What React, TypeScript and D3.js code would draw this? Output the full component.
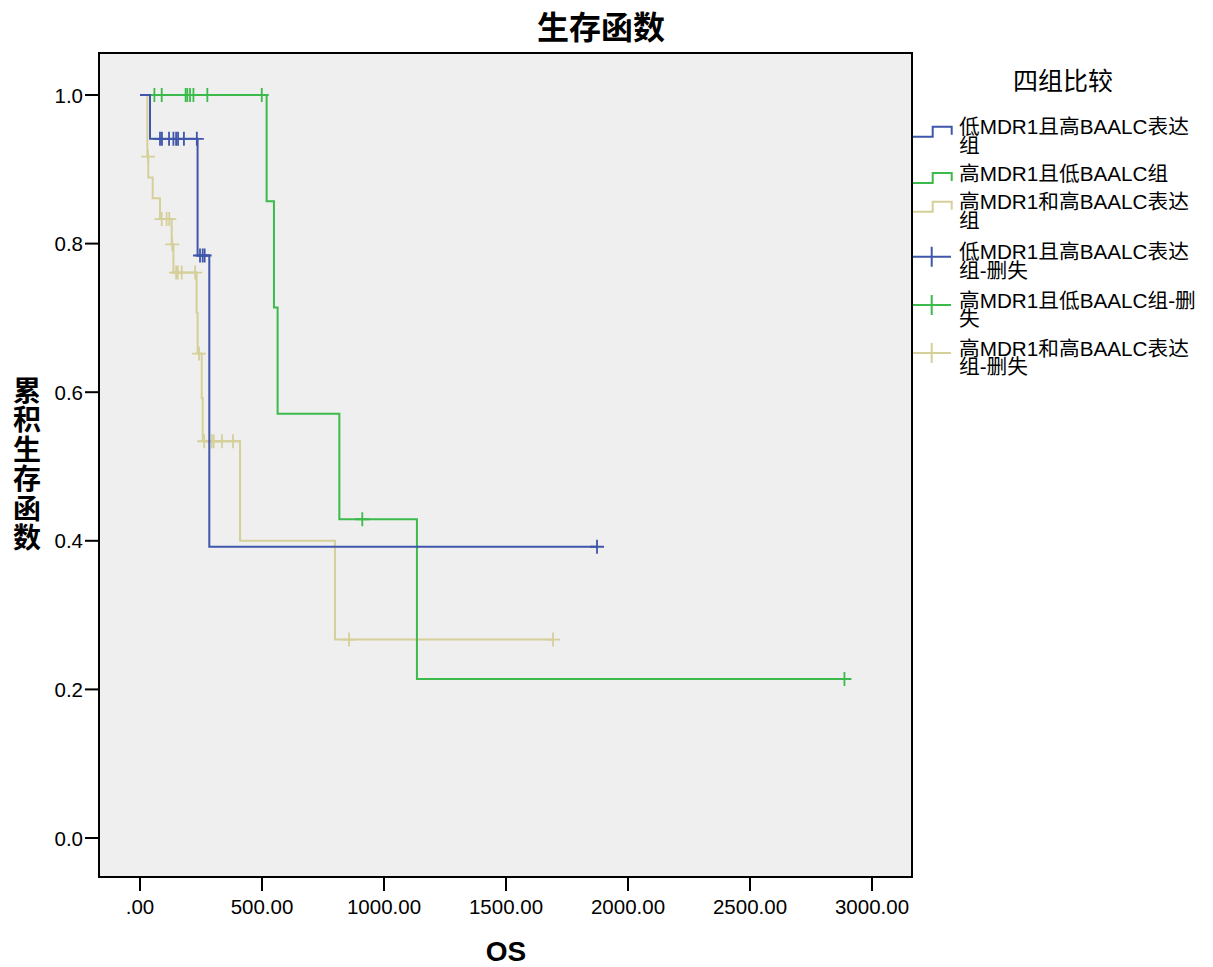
import React, { useEffect, useRef } from "react";
import * as d3 from "d3";

// step points (time in days, cumulative survival)
const blueTimes = [0, 41, 236, 284];
const blueSurv = [1.0, 0.941, 0.784, 0.392];
const blueCensor = [82, 90, 119, 137, 148, 156, 180, 233, 246, 257, 265, 1873];

const greenTimes = [0, 519, 549, 564, 817, 1135];
const greenSurv = [1.0, 0.857, 0.714, 0.571, 0.429, 0.214];
const greenCensor = [59, 89, 187, 194, 205, 219, 276, 499, 911, 2887];

const tanTimes = [0, 30, 34, 52, 82, 130, 137, 232, 236, 253, 257, 410, 799];
const tanSurv = [1.0, 0.917, 0.889, 0.861, 0.833, 0.799, 0.761, 0.707, 0.652, 0.592, 0.534, 0.4, 0.267];
const tanCensor = [33, 89, 109, 120, 132, 148, 155, 171, 226, 242, 263, 294, 302, 336, 381, 857, 1693];

const xTicks = [0, 500, 1000, 1500, 2000, 2500, 3000];
const yTicks = [0, 0.2, 0.4, 0.6, 0.8, 1.0];

const legendLines = [
  ["低MDR1且高BAALC表达", "组"],
  ["高MDR1且低BAALC组"],
  ["高MDR1和高BAALC表达", "组"],
  ["低MDR1且高BAALC表达", "组-删失"],
  ["高MDR1且低BAALC组-删", "失"],
  ["高MDR1和高BAALC表达", "组-删失"],
];

const colors = ["#3f56aa", "#3cba4c", "#d5cf9a"];
const FONT = "'Liberation Sans', Arial, 'Noto Sans CJK SC', sans-serif";

const App = () => {
  const svgRef = useRef(null);

  useEffect(() => {
    document.body.style.margin = "0";
    const svg = d3.select(svgRef.current);
    svg.selectAll("*").remove();

    const left = 99, right = 912, top = 53, bottom = 877;
    const x = d3.scaleLinear().domain([0, 3000]).range([140, 872]);
    const y = d3.scaleLinear().domain([0, 1]).range([838, 95]);

    svg.append("rect")
      .attr("x", left).attr("y", top)
      .attr("width", right - left).attr("height", bottom - top)
      .attr("fill", "#efefef");

    const groups = [
      { t: blueTimes, s: blueSurv, c: blueCensor },
      { t: greenTimes, s: greenSurv, c: greenCensor },
      { t: tanTimes, s: tanSurv, c: tanCensor },
    ];

    const line = d3.line()
      .x(d => x(d[0]))
      .y(d => y(d[1]))
      .curve(d3.curveStepAfter);

    // tan first, then green, blue on top
    [2, 1, 0].forEach(gi => {
      const g = groups[gi];
      const pts = g.t.map((t, i) => [t, g.s[i]]);
      pts.push([d3.max(g.c), g.s[g.s.length - 1]]);
      svg.append("path")
        .datum(pts)
        .attr("fill", "none")
        .attr("stroke", colors[gi])
        .attr("stroke-width", 2)
        .attr("d", line);

      const survAt = t => {
        let v = g.s[0];
        g.t.forEach((tt, i) => { if (tt <= t) v = g.s[i]; });
        return v;
      };
      g.c.forEach(t => {
        const cx = x(t), cy = y(survAt(t));
        svg.append("path")
          .attr("d", `M${cx - 7},${cy}H${cx + 7}M${cx},${cy - 7}V${cy + 7}`)
          .attr("stroke", colors[gi])
          .attr("stroke-width", 1.8)
          .attr("fill", "none");
      });
    });

    // frame
    svg.append("rect")
      .attr("x", left).attr("y", top)
      .attr("width", right - left).attr("height", bottom - top)
      .attr("fill", "none").attr("stroke", "#000").attr("stroke-width", 2);

    // x axis
    xTicks.forEach(t => {
      svg.append("line")
        .attr("x1", x(t)).attr("x2", x(t))
        .attr("y1", bottom).attr("y2", bottom + 14)
        .attr("stroke", "#000").attr("stroke-width", 2);
      svg.append("text")
        .attr("x", x(t)).attr("y", 914)
        .attr("text-anchor", "middle")
        .attr("font-family", FONT).attr("font-size", 20.5)
        .text(t === 0 ? ".00" : t.toFixed(2));
    });

    // y axis
    yTicks.forEach(v => {
      svg.append("line")
        .attr("x1", left - 14).attr("x2", left)
        .attr("y1", y(v)).attr("y2", y(v))
        .attr("stroke", "#000").attr("stroke-width", 2);
      svg.append("text")
        .attr("x", 83).attr("y", y(v) + 7.5)
        .attr("text-anchor", "end")
        .attr("font-family", FONT).attr("font-size", 20.5)
        .text(v.toFixed(1));
    });

    svg.append("text")
      .attr("x", 601).attr("y", 39)
      .attr("text-anchor", "middle")
      .attr("font-family", FONT).attr("font-size", 32).attr("font-weight", "bold")
      .text("生存函数");

    svg.append("text")
      .attr("x", 506).attr("y", 961)
      .attr("text-anchor", "middle")
      .attr("font-family", FONT).attr("font-size", 28).attr("font-weight", "bold")
      .text("OS");

    // vertical y label, one char per row
    "累积生存函数".split("").forEach((ch, i) => {
      svg.append("text")
        .attr("x", 27).attr("y", 401 + i * 29.4)
        .attr("text-anchor", "middle")
        .attr("font-family", FONT).attr("font-size", 28).attr("font-weight", "bold")
        .text(ch);
    });

    // legend
    svg.append("text")
      .attr("x", 1063).attr("y", 90)
      .attr("text-anchor", "middle")
      .attr("font-family", FONT).attr("font-size", 25)
      .text("四组比较");

    const rowTop = [126.7, 173, 201.7, 251.7, 300, 348];
    legendLines.forEach((lines, i) => {
      const c = colors[i % 3];
      const yc = rowTop[i];
      if (i < 3) {
        svg.append("path")
          .attr("d", `M913,${yc + 10}H932.7V${yc}H951.7V${yc + 8}`)
          .attr("stroke", c).attr("stroke-width", 2).attr("fill", "none");
      } else {
        const cy = yc + 5;
        svg.append("path")
          .attr("d", `M913,${cy}H951M931.7,${cy - 10}V${cy + 10}`)
          .attr("stroke", c).attr("stroke-width", 2).attr("fill", "none");
      }
      lines.forEach((ln, j) => {
        svg.append("text")
          .attr("x", 959).attr("y", yc + 7.5 + j * 18.5)
          .attr("font-family", FONT).attr("font-size", 20.7)
          .text(ln);
      });
    });
  }, []);

  return <svg ref={svgRef} width={1213} height={967} style={{ display: "block" }}></svg>;
};

export default App;
